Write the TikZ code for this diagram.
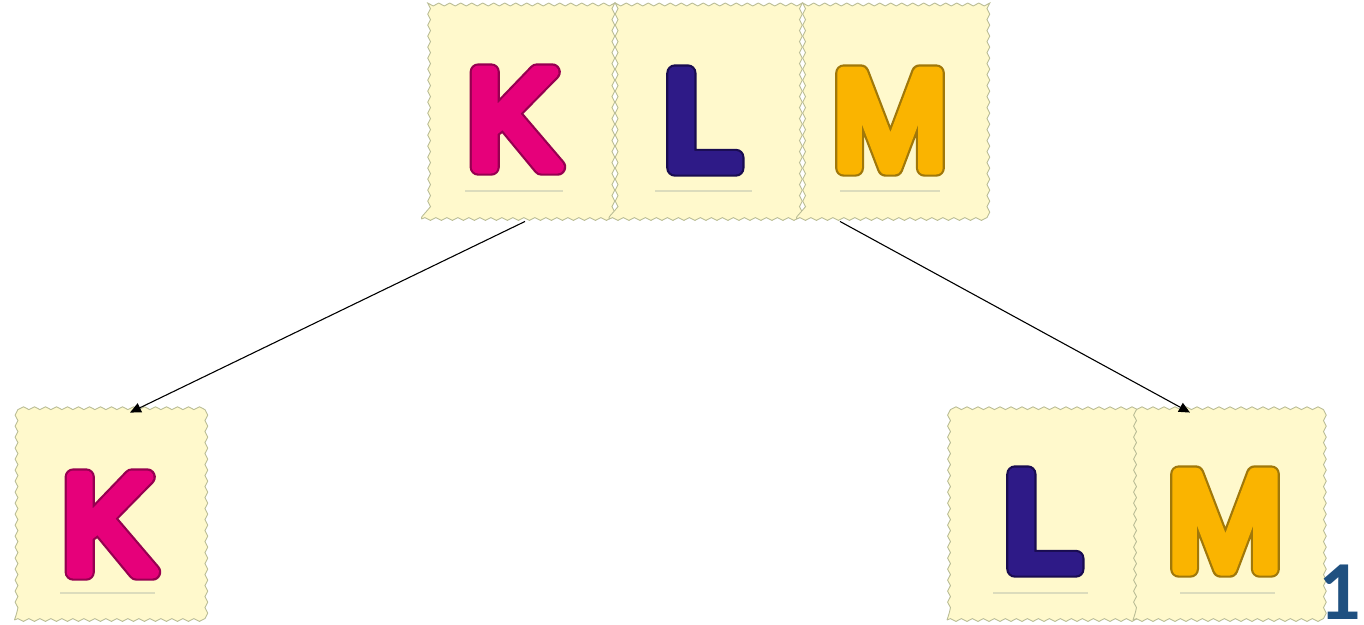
\documentclass[tikz,border=0pt]{standalone}
\usepackage{fontspec}
\usetikzlibrary{decorations.pathmorphing,arrows.meta}
\newfontfamily\letterfont{Liberation Sans}[FakeBold=9.4]
\newfontfamily\letteroutline{Liberation Sans}[FakeBold=12.6]
\newfontfamily\numfont{Carlito}[UprightFont=* Bold]
\newcommand{\roundjoin}{\special{pdf:literal 1 j 1 J}}
\definecolor{cardfill}{RGB}{255,249,204}
\definecolor{cardedge}{RGB}{186,189,150}
\definecolor{rule}{RGB}{220,220,188}
\definecolor{kfill}{RGB}{230,0,122}
\definecolor{kedge}{RGB}{150,0,80}
\definecolor{lfill}{RGB}{46,26,135}
\definecolor{ledge}{RGB}{25,12,80}
\definecolor{mfill}{RGB}{250,180,0}
\definecolor{medge}{RGB}{160,120,10}
\definecolor{numcol}{RGB}{31,80,128}
\tikzset{
  card/.style={draw=cardedge, fill=cardfill, line width=0.9pt, inner sep=0pt,
    minimum width=187pt, minimum height=213pt,
    decorate, decoration={snake, amplitude=1.4pt, segment length=11pt}},
  letter/.style={anchor=base, inner sep=0pt, text depth=0pt, font=\fontsize{138}{138}\letterfont},
  letteredge/.style={anchor=base, inner sep=0pt, text depth=0pt, font=\fontsize{138}{138}\letteroutline},
  uline/.style={draw=rule, line width=2pt},
  arrow/.style={-{Triangle[length=11pt,width=10pt]}, line width=1.1pt, black}
}
\begin{document}
\begin{tikzpicture}[x=1pt,y=-1pt]
\useasboundingbox (0,0) rectangle (1364,624);
% top row cards
\node[card] (kTop) at (515,112.5) {};
\node[card] (lTop) at (702.5,112.5) {};
\node[card] (mTop) at (890,112.5) {};
% bottom cards
\node[card, minimum height=207pt] (kBot) at (108,516.5) {};
\node[card, minimum height=207pt] (lBot) at (1040.5,516.5) {};
\node[card, minimum height=207pt] (mBot) at (1226.5,516.5) {};
% underlines
\draw[uline] (465,191) -- (563,191);
\draw[uline] (655,191) -- (752,191);
\draw[uline] (840,191) -- (940,191);
\draw[uline] (60,593) -- (155,593);
\draw[uline] (993,593) -- (1088,593);
\draw[uline] (1180,593) -- (1275,593);
% letters (outline layer, then fill layer)
\node[letteredge, text=kedge] (kTopO) at (513,167) {\roundjoin K};
\node[letter, text=kfill] (kTopT) at (513,167) {\roundjoin K};
\node[letteredge, text=ledge] (lTopO) at (702,168) {\roundjoin L};
\node[letter, text=lfill] (lTopT) at (702,168) {\roundjoin L};
\node[letteredge, text=medge] (mTopO) at (890,168) {\roundjoin M};
\node[letter, text=mfill] (mTopT) at (890,168) {\roundjoin M};
\node[letteredge, text=kedge] (kBotO) at (108,572) {\roundjoin K};
\node[letter, text=kfill] (kBotT) at (108,572) {\roundjoin K};
\node[letteredge, text=ledge] (lBotO) at (1042,569) {\roundjoin L};
\node[letter, text=lfill] (lBotT) at (1042,569) {\roundjoin L};
\node[letteredge, text=medge] (mBotO) at (1225,569) {\roundjoin M};
\node[letter, text=mfill] (mBotT) at (1225,569) {\roundjoin M};
% number
\node[anchor=base east, inner sep=0pt, text depth=0pt, text=numcol, font=\fontsize{84}{84}\numfont] (num) at (1361,619) {1};
% arrows
\draw[arrow] ([xshift=10pt,yshift=-2pt]kTop.south) -- ([xshift=22pt]kBot.north);
\draw[arrow] ([xshift=-50pt,yshift=-2pt]mTop.south) -- ([xshift=-36.5pt]mBot.north);
\end{tikzpicture}
\end{document}
